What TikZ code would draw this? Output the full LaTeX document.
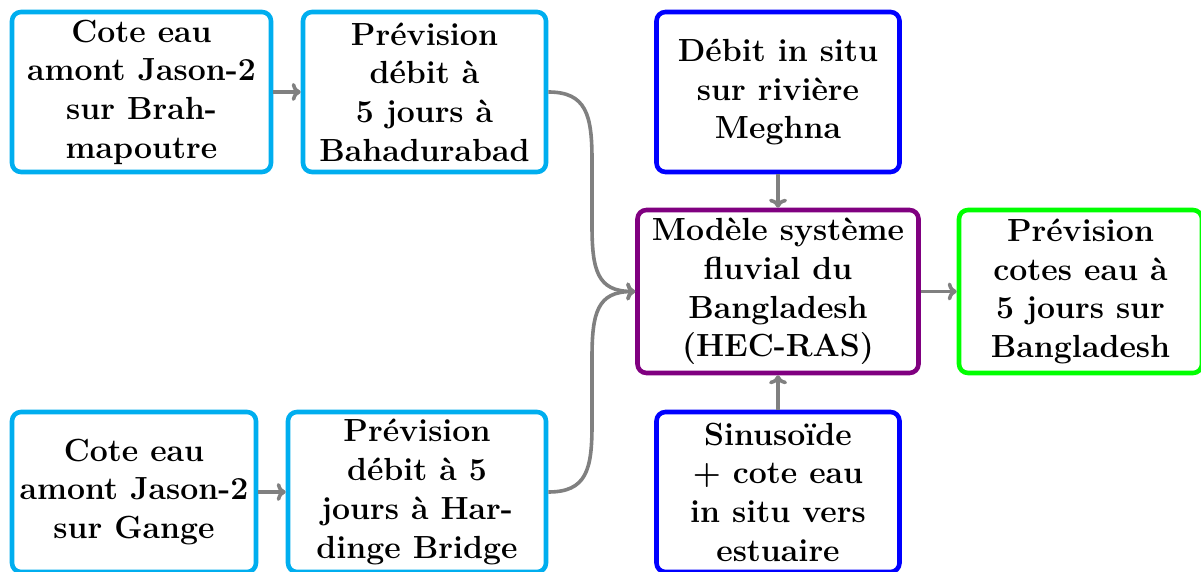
\documentclass[tikz,border=0pt]{standalone}
\usepackage{fontspec}
\usetikzlibrary{arrows.meta}
\definecolor{boxcyan}{RGB}{0,174,239}
\definecolor{boxblue}{RGB}{0,0,255}
\definecolor{boxpurple}{RGB}{128,0,128}
\definecolor{boxgreen}{RGB}{0,255,0}
\definecolor{conngray}{RGB}{128,128,128}
\tikzset{
  box/.style={draw, line width=2.3pt, rounded corners=4.5pt, inner sep=0pt,
    minimum height=80pt, align=center,
    font=\fontsize{16}{19.35}\selectfont\bfseries},
  conn/.style={draw=conngray, line width=1.8pt, -{To[length=4.5pt,width=9pt]}},
}
\begin{document}
\begin{tikzpicture}[x=0.5pt,y=-0.5pt]
\useasboundingbox (0,0) rectangle (1201,572);
\node[box, draw=boxcyan, minimum width=129.5pt] (a1) at (141.5,92) {Cote eau\\amont Jason-2\\sur Brah-\\mapoutre};
\node[box, draw=boxcyan, minimum width=121.5pt] (a2) at (424.5,92) {Prévision\\débit à\\5 jours à\\Bahadurabad};
\node[box, draw=boxcyan, minimum width=122pt] (b1) at (134,492) {Cote eau\\amont Jason-2\\sur Gange};
\node[box, draw=boxcyan, minimum width=129pt] (b2) at (417,492) {Prévision\\débit à 5\\jours à Har-\\dinge Bridge};
\node[box, draw=boxblue, minimum width=121.5pt] (t) at (778,92) {Débit in situ\\sur rivière\\Meghna};
\node[box, draw=boxblue, minimum width=121.5pt] (s) at (778,492) {Sinusoïde\\+ cote eau\\in situ vers\\estuaire};
\node[box, draw=boxpurple, minimum width=140.5pt, minimum height=81.5pt] (m) at (778,291.5) {Modèle système\\fluvial du\\Bangladesh\\(HEC-RAS)};
\node[box, draw=boxgreen, minimum width=121.5pt, minimum height=81.5pt] (g) at (1080.5,291.5) {Prévision\\cotes eau à\\5 jours sur\\Bangladesh};
\coordinate (u1) at (592,160);
\coordinate (u2) at (592,225);
\coordinate (d1) at (592,425);
\coordinate (d2) at (592,358);
\draw[conn] (a1) -- (a2);
\draw[conn] (b1) -- (b2);
\draw[conn] (t) -- (m);
\draw[conn] (s) -- (m);
\draw[conn] (m) -- (g);
\draw[conn] (a2.east) .. controls +(38,0) and +(0,-45) .. (u1) -- (u2) .. controls +(0,45) and +(-38,0) .. (m.west);
\draw[conn] (b2.east) .. controls +(38,0) and +(0,45) .. (d1) -- (d2) .. controls +(0,-45) and +(-38,0) .. (m.west);
\end{tikzpicture}
\end{document}
